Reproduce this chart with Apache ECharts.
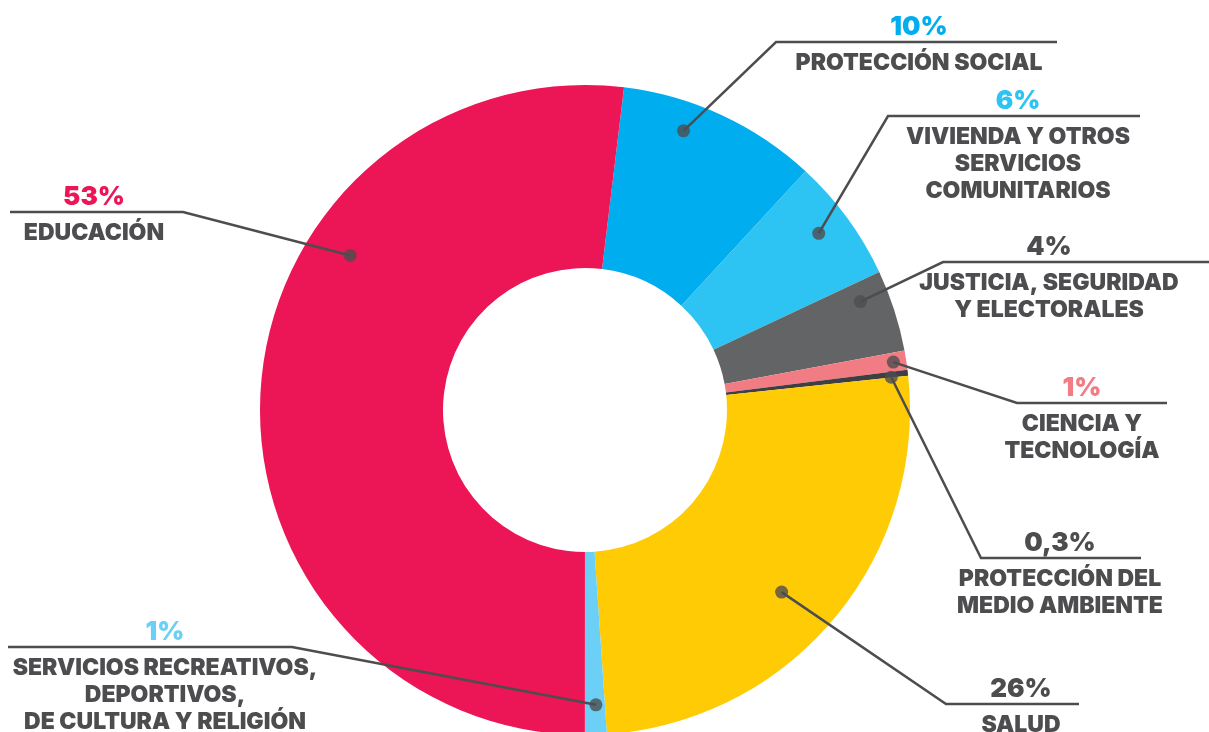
<!DOCTYPE html>
<html>
<head>
<meta charset="utf-8">
<script src="https://cdn.jsdelivr.net/npm/echarts@6/dist/echarts.min.js"></script>
<style>
  html, body { margin: 0; padding: 0; background: #fff; }
  #chart { width: 1209px; height: 732px; }
</style>
</head>
<body>
<div id="chart"></div>
<script>
// data, clockwise from the slice right after 12 o'clock
const categories = [
  'PROTECCIÓN SOCIAL',
  'VIVIENDA Y OTROS\nSERVICIOS\nCOMUNITARIOS',
  'JUSTICIA, SEGURIDAD\nY ELECTORALES',
  'CIENCIA Y\nTECNOLOGÍA',
  'PROTECCIÓN DEL\nMEDIO AMBIENTE',
  'SALUD',
  'SERVICIOS RECREATIVOS,\nDEPORTIVOS,\nDE CULTURA Y RELIGIÓN',
  'EDUCACIÓN'
];
const shares = [9.95, 6.15, 4.05, 0.95, 0.3, 25.6, 1.08, 51.9];
const shareLabels = ['10%', '6%', '4%', '1%', '0,3%', '26%', '1%', '53%'];

const sliceColors = ['#00AEEF', '#2DC3F2', '#636466', '#F27C84', '#3F3F41', '#FFCB05', '#6BCFF6', '#EC1556'];
const pctColors = ['#00AEEF', '#2DC3F2', '#4D4D4F', '#F27C84', '#4D4D4F', '#4D4D4F', '#6BCFF6', '#EC1556'];

// layout
const CX = 585, CY = 410, R_IN = 142, R_OUT = 325;
const START = 6.9; // degrees clockwise from 12 o'clock
const dotFrac = [0.35, 0.46, 0.25, 0.5, 0.95, 0.53, 0.45, 0.66];
const dotRadius = [296, 293, 296, 312, 308, 268, 295, 281];
// [elbow x, underline y, underline end x, text center x]
const guides = [
  [776, 42, 1057, 919],
  [888, 116, 1140, 1018],
  [943, 262, 1209, 1049],
  [1017, 403, 1167, 1082],
  [981, 558, 1141, 1060],
  [946, 704, 1079, 1021],
  [292, 647, 8, 165],
  [183, 212, 10, 94]
];
const FONT = 'Inter, Lato, sans-serif';
const GRAY = '#4D4D4F';

const total = shares.reduce((a, b) => a + b, 0);
const dotAngle = [];
let acc = 0;
shares.forEach((v, i) => {
  dotAngle.push(acc + v * dotFrac[i]);
  acc += v;
});

function dotPixel(i) {
  const t = (START + dotAngle[i] / total * 360) * Math.PI / 180;
  return [CX + dotRadius[i] * Math.sin(t), CY - dotRadius[i] * Math.cos(t)];
}

const rich = {
  gap: { fontSize: 2, lineHeight: 7 },
  nm: { fontSize: 23, lineHeight: 27, fontWeight: 900, color: GRAY, fontFamily: FONT, align: 'center' }
};
pctColors.forEach((c, i) => {
  rich['pc' + i] = { fontSize: 26, lineHeight: 32, fontWeight: 900, color: c, fontFamily: FONT, align: 'center' };
});

const pieData = categories.map((name, i) => ({ name: name, value: shares[i] }));

const chart = echarts.init(document.getElementById('chart'));

const option = {
  animation: false,
  backgroundColor: '#fff',
  polar: { center: [CX, CY], radius: R_OUT },
  angleAxis: { type: 'value', min: 0, max: total, startAngle: 90 - START, clockwise: true, show: false },
  radiusAxis: { type: 'value', min: 0, max: R_OUT, show: false },
  series: [{
    // coloured ring
    type: 'pie',
    z: 2,
    center: [CX, CY],
    radius: [R_IN, R_OUT],
    startAngle: 90 - START,
    clockwise: true,
    silent: true,
    label: { show: false },
    labelLine: { show: false },
    data: pieData.map((d, i) => ({ ...d, itemStyle: { color: sliceColors[i] } }))
  }, {
    // same ring, transparent, carrying labels and leader lines above the colours
    type: 'pie',
    z: 3,
    center: [CX, CY],
    radius: [R_IN, R_OUT],
    startAngle: 90 - START,
    clockwise: true,
    silent: true,
    avoidLabelOverlap: false,
    itemStyle: { color: 'rgba(0,0,0,0)' },
    data: pieData,
    label: {
      show: true,
      position: 'outside',
      align: 'center',
      fontFamily: FONT,
      formatter: (p) => {
        const i = p.dataIndex;
        const lines = categories[i].split('\n').map(s => `{nm|${s}}`).join('\n');
        return `{pc${i}|${shareLabels[i]}}\n{gap| }\n${lines}`;
      },
      rich: rich
    },
    labelLine: {
      show: true,
      length: 10,
      length2: 10,
      lineStyle: { color: GRAY, width: 2.5, opacity: 1 }
    },
    labelLayout: (p) => {
      const i = p.dataIndex;
      const g = guides[i];
      return {
        x: g[3],
        y: g[1] - 31,
        align: 'center',
        verticalAlign: 'top',
        labelLinePoints: [dotPixel(i), [g[0], g[1]], [g[2], g[1]]]
      };
    }
  }, {
    type: 'scatter',
    coordinateSystem: 'polar',
    symbol: 'circle',
    symbolSize: 13,
    z: 5,
    silent: true,
    itemStyle: { color: GRAY },
    data: dotAngle.map((a, i) => [dotRadius[i], a])
  }]
};

chart.setOption(option);
</script>
</body>
</html>
